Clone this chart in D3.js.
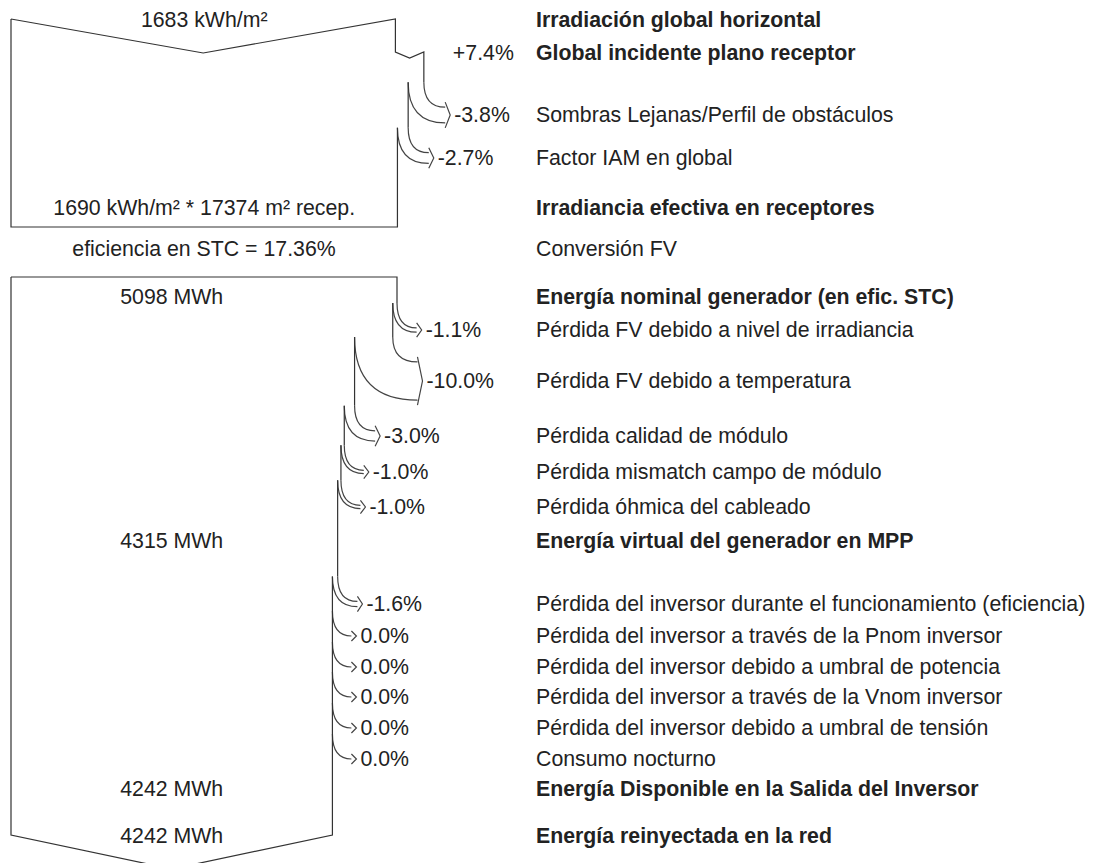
<!DOCTYPE html>
<html>
<head>
<meta charset="utf-8">
<script src="https://cdn.jsdelivr.net/npm/d3@7"></script>
<style>
  body { margin: 0; background: #fff; }
  text { font-family: "Liberation Sans", Arial, sans-serif; fill: #222; }
</style>
</head>
<body>
<svg id="chart" width="1096" height="863"></svg>
<script>
// --- data ---
const rowLabels = [
    "Irradiación global horizontal",
    "Global incidente plano receptor",
    "Sombras Lejanas/Perfil de obstáculos",
    "Factor IAM en global",
    "Irradiancia efectiva en receptores",
    "Conversión FV",
    "Energía nominal generador (en efic. STC)",
    "Pérdida FV debido a nivel de irradiancia",
    "Pérdida FV debido a temperatura",
    "Pérdida calidad de módulo",
    "Pérdida mismatch campo de módulo",
    "Pérdida óhmica del cableado",
    "Energía virtual del generador en MPP",
    "Pérdida del inversor durante el funcionamiento (eficiencia)",
    "Pérdida del inversor a través de la Pnom inversor",
    "Pérdida del inversor debido a umbral de potencia",
    "Pérdida del inversor a través de la Vnom inversor",
    "Pérdida del inversor debido a umbral de tensión",
    "Consumo nocturno",
    "Energía Disponible en la Salida del Inversor",
    "Energía reinyectada en la red"
];
const rowKind = ["main", "main", "loss", "loss", "main", "note", "main", "loss", "loss", "loss", "loss", "loss",
    "main", "loss", "loss", "loss", "loss", "loss", "loss", "main", "main"];
const rowPercent = [null, 7.4, -3.8, -2.7, null, null, null, -1.1, -10.0, -3.0, -1.0, -1.0,
    null, -1.6, 0.0, 0.0, 0.0, 0.0, 0.0, null, null];
const flowLabels = ["1683 kWh/m²", null, null, null, "1690 kWh/m² * 17374 m² recep.", "eficiencia en STC = 17.36%",
    "5098 MWh", null, null, null, null, null, "4315 MWh", null, null, null, null, null, null, "4242 MWh", "4242 MWh"];
const irradStart = 1683, irradEnd = 1690;
const energyStart = 5098;

// --- layout ---
const rowY = [20, 53, 115, 158, 208, 249, 297, 330, 381, 436, 472, 507, 541, 604, 636, 667, 697, 728, 759, 789, 836];
const left = 11, fullRight = 397, vDepth = 34;
const labelX = 536;
const fontSize = 21.3;

const svg = d3.select("#chart");
const gLines = svg.append("g").attr("fill", "none").attr("stroke", "#333").attr("stroke-width", 1.2);
const gText = svg.append("g").attr("font-size", fontSize);

const fmtPct = v => (v > 0 ? "+" : "") + v.toFixed(1) + "%";

function drawBlock(firstRow, lastRow, startValue, scaleMax, topY, bottomY, bottomArrow) {
    const x = d3.scaleLinear().domain([0, scaleMax]).range([left, fullRight]);
    let value = startValue;
    let xr = x(value);
    const p = d3.path();
    // top edge (arrow in for the first block)
    if (!bottomArrow) {
        p.moveTo(left, topY);
        p.lineTo((left + xr) / 2, topY + vDepth);
        p.lineTo(xr, topY);
    } else {
        p.moveTo(left, topY);
        p.lineTo(xr, topY);
    }
    for (let i = firstRow; i <= lastRow; i++) {
        const pct = rowPercent[i];
        if (pct === null) continue;
        const yL = rowY[i];
        const newValue = value * (1 + pct / 100);
        const xn = x(newValue);
        if (pct > 0) {
            // gain: small notch, edge moves right
            p.lineTo(xr, yL - 1);
            p.lineTo((xr + xn) / 2, yL + 5);
            p.lineTo(xn, yL - 1);
            gText.append("text").attr("x", xn + 29).attr("y", yL)
                .attr("dominant-baseline", "central").text(fmtPct(pct));
        } else {
            const bw = xr - xn;
            const hw = bw / 2;
            const s = yL - 25 - hw;
            const tx = xr + 24 + bw * 0.15;
            const ex = tx - 5;
            p.lineTo(xr, s);
            p.moveTo(xn, s);
            const c = d3.path();
            c.moveTo(xr, s);
            c.quadraticCurveTo(xr, yL - hw, ex, yL - hw);
            if (bw > 0.5) {
                c.moveTo(xn, s);
                c.quadraticCurveTo(xn, yL + hw, ex, yL + hw);
            }
            c.moveTo(ex, yL - hw - 5);
            c.lineTo(tx, yL);
            c.lineTo(ex, yL + hw + 5);
            gLines.append("path").attr("d", c.toString()).attr("stroke", "#444");
            gText.append("text").attr("x", tx + 4).attr("y", yL)
                .attr("dominant-baseline", "central").text(fmtPct(pct));
        }
        value = newValue;
        xr = xn;
    }
    // right edge down to bottom, then bottom and left edges
    p.lineTo(xr, bottomY);
    if (bottomArrow) {
        p.lineTo((left + xr) / 2, bottomY + vDepth);
        p.lineTo(left, bottomY);
    } else {
        p.lineTo(left, bottomY);
    }
    p.lineTo(left, topY);
    gLines.append("path").attr("d", p.toString());

    // flow labels centred in the band
    for (let i = firstRow; i <= lastRow; i++) {
        if (!flowLabels[i]) continue;
        gText.append("text").attr("x", (left + xr) / 2).attr("y", rowY[i])
            .attr("text-anchor", "middle").attr("dominant-baseline", "central")
            .text(flowLabels[i]);
    }
    return xr;
}

// block 1: irradiation, block 2: energy
drawBlock(0, 4, irradStart, irradEnd, rowY[0] - 1, rowY[4] + 19, false);
gText.append("text").attr("x", (left + fullRight) / 2).attr("y", rowY[5])
    .attr("text-anchor", "middle").attr("dominant-baseline", "central").text(flowLabels[5]);
const xFinal = drawBlock(6, 20, energyStart, energyStart, rowY[6] - 20, rowY[20] - 1, true);

// right column labels
gText.selectAll("text.row")
    .data(rowLabels)
    .join("text")
    .attr("class", "row")
    .attr("x", labelX)
    .attr("y", (d, i) => rowY[i])
    .attr("dominant-baseline", "central")
    .attr("font-weight", (d, i) => rowKind[i] === "main" ? "bold" : "normal")
    .text(d => d);
</script>
</body>
</html>
